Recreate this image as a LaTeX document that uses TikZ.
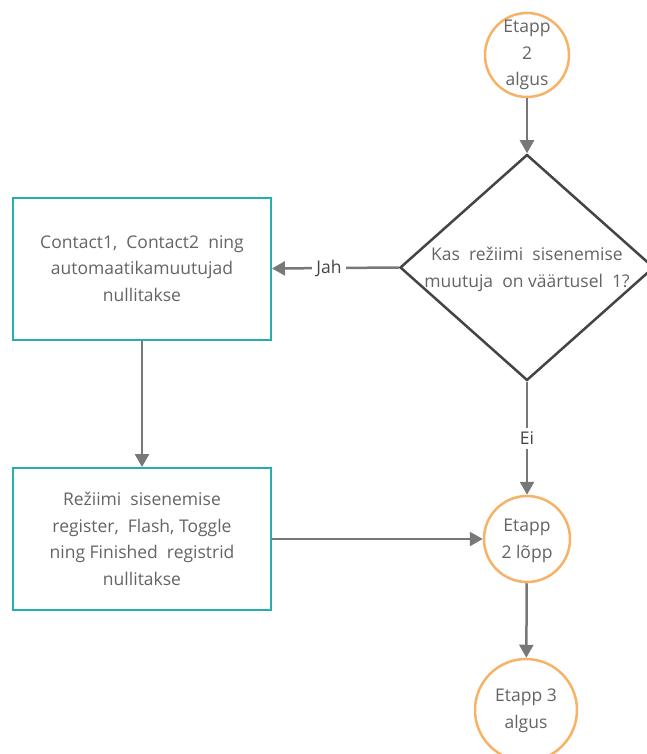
\documentclass[tikz,border=0pt]{standalone}
\usepackage{fontspec}
\setmainfont{Open Sans}
\usetikzlibrary{arrows.meta,shapes.geometric}
\definecolor{tealline}{RGB}{38,174,174}
\definecolor{orangeline}{RGB}{247,178,103}
\definecolor{connector}{RGB}{120,120,120}
\definecolor{diamondline}{RGB}{68,68,68}
\definecolor{labeltext}{RGB}{100,100,100}
\tikzset{
  x=1pt, y=-1pt,
  txt/.style={font=\fontsize{17.5}{26.5}\selectfont, text=labeltext, align=center},
  procbox/.style={txt, rectangle, draw=tealline, line width=2pt,
    minimum width=258pt, minimum height=142pt, inner sep=0pt},
  terminal/.style={circle, draw=orangeline, line width=2.5pt, inner sep=0pt},
  inside/.style={txt, inner sep=0pt},
  decision/.style={diamond, draw=diamondline, line width=2.5pt,
    shape aspect=1.12, minimum width=254pt, minimum height=226pt, inner sep=0pt},
  flow/.style={draw=connector, line width=2.5pt,
    -{Triangle[width=14pt,length=13pt]}},
  edgelabel/.style={font=\fontsize{17.5}{20}\selectfont, text=diamondline,
    fill=white, inner sep=4pt}
}
\begin{document}
\begin{tikzpicture}
\useasboundingbox (0,0) rectangle (646,754);

% nodes (texts of round and diamond shapes are placed as centred labels
% so that the outlines keep their fixed sizes)
\node[terminal, minimum size=84pt,
  label={[inside]center:Etapp\\2\\algus}] (start2) at (527,55) {};
\node[decision,
  label={[inside, yshift=-2pt]center:Kas~ režiimi~ sisenemise\\muutuja~ on väärtusel~ 1?}] (check) at (527,267.5) {};
\node[procbox] (reset1) at (142,268.5) {Contact1,~ Contact2~ ning\\automaatikamuutujad\\nullitakse};
\node[procbox] (reset2) at (142,539) {Režiimi~ sisenemise\\register,~ Flash, Toggle\\ning Finished~ registrid\\nullitakse};
\node[terminal, minimum size=86pt,
  label={[inside, yshift=-2pt]center:Etapp\\2 lõpp}] (end2) at (527,539) {};
\node[terminal, minimum size=102pt,
  label={[inside, yshift=-1pt]center:Etapp 3\\algus}] (start3) at (526,710) {};

% connectors
\draw[flow] (start2) -- (check);
\draw[flow] (check.west) -- node[edgelabel, pos=0.55] (yes) {Jah} (reset1.east);
\draw[flow] (reset1) -- (reset2);
\draw[flow] (check.south) -- node[edgelabel, pos=0.5] (no) {Ei} (end2.north);
\draw[flow] (reset2.east) -- (end2.west);
\draw[flow] (end2) -- (start3);
\end{tikzpicture}
\end{document}
